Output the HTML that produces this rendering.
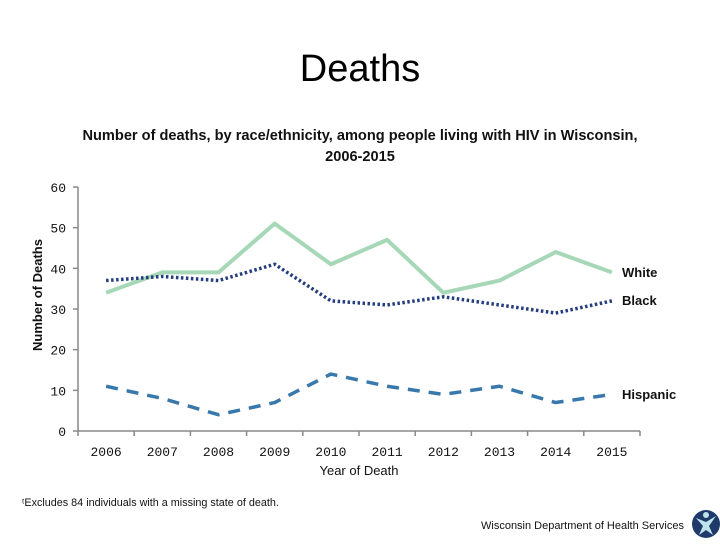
<!DOCTYPE html>
<html><head><meta charset="utf-8"><style>
body{margin:0;width:720px;height:540px;background:#fff;font-family:"Liberation Sans",sans-serif;overflow:hidden}
</style></head><body>
<svg width="720" height="540" xmlns="http://www.w3.org/2000/svg">
<text x="360" y="81" text-anchor="middle" font-size="38" fill="#000">Deaths</text>
<text x="232" y="140" text-anchor="middle" font-size="15" font-weight="bold" fill="#111" textLength="342" lengthAdjust="spacingAndGlyphs" style="display:none">x</text>
<text x="360" y="140" text-anchor="middle" font-size="14.6" font-weight="bold" fill="#111">Number of deaths, by race/ethnicity, among people living with HIV in Wisconsin,</text>
<text x="360" y="161" text-anchor="middle" font-size="14.6" font-weight="bold" fill="#111">2006-2015</text>
<text transform="translate(42,295) rotate(-90)" text-anchor="middle" font-size="13" font-weight="bold" fill="#111">Number of Deaths</text>
<text x="359" y="475" text-anchor="middle" font-size="13" fill="#111">Year of Death</text>
<g id="axes"></g>
<g id="series"></g>
<text x="22" y="506" font-size="10.8" fill="#111">ᵗExcludes 84 individuals with a missing state of death.</text>
<text x="481" y="529" font-size="11" fill="#111">Wisconsin Department of Health Services</text>
<g>
<circle cx="706" cy="524" r="14" fill="#1f3a6a"/>
<circle cx="706" cy="515" r="3" fill="#bfe3ea"/>
<path d="M696 518 L706 522 L716 516 L709 526 L713 535 L706 530 L699 535 L703 526 Z" fill="#bfe3ea"/>
</g>
</svg>
<script>
const years=["2006","2007","2008","2009","2010","2011","2012","2013","2014","2015"];
const white=[34,39,39,51,41,47,34,37,44,39];
const black=[37,38,37,41,32,31,33,31,29,32];
const hispanic=[11,8,4,7,14,11,9,11,7,9];
const yTicks=[0,10,20,30,40,50,60];
const NS="http://www.w3.org/2000/svg";
const x0=78,step=56.2,yBase=431,yTop=187,yMax=60;
const xPos=i=>x0+step*(i+0.5);
const yPos=v=>yBase-(v/yMax)*(yBase-yTop);
function mk(t,a,parent){const e=document.createElementNS(NS,t);for(const k in a)e.setAttribute(k,a[k]);parent.appendChild(e);return e;}
const axes=document.getElementById('axes');
const ya=mk('line',{x1:x0,y1:yTop,x2:x0,y2:yBase,stroke:'#888','stroke-width':1.5},axes);


const xa=mk('line',{x1:x0,y1:yBase,x2:x0+step*10,y2:yBase,stroke:'#888','stroke-width':1.5},axes);


yTicks.forEach(v=>{
  mk('line',{x1:x0-5,y1:yPos(v),x2:x0,y2:yPos(v),stroke:'#888','stroke-width':1.5},axes);
  const t=mk('text',{x:x0-12,y:yPos(v)+5,'text-anchor':'end','font-size':13,fill:'#111','font-family':'Liberation Mono, monospace'},axes);
  t.textContent=v;
  
  
});
for(let i=0;i<=years.length;i++){mk('line',{x1:x0+step*i,y1:yBase,x2:x0+step*i,y2:yBase+5,stroke:'#888','stroke-width':1.5},axes);}
years.forEach((y,i)=>{
  const t=mk('text',{x:xPos(i),y:456,'text-anchor':'middle','font-size':13,fill:'#111','font-family':'Liberation Mono, monospace'},axes);
  t.textContent=y;
  
  
});
const sg=document.getElementById('series');
function series(vals,color,w,dash,name,label,ly){
  const pts=vals.map((v,i)=>xPos(i)+','+yPos(v)).join(' ');
  const p=mk('polyline',{points:pts,fill:'none',stroke:color,'stroke-width':w,'stroke-dasharray':dash,'stroke-linejoin':'round'},sg);
  
  
  const t=mk('text',{x:622,y:ly,'font-size':13,'font-weight':'bold',fill:'#111'},sg);
  t.textContent=label;
  
  
}
series(white,'#a6d7b7',4,'none','white-line','White',277);
series(black,'#243d7c',3.5,'2.5 2.5','black-line','Black',305);
series(hispanic,'#3978ab',3.5,'12 9','hispanic-line','Hispanic',399);
</script>
</body></html>
